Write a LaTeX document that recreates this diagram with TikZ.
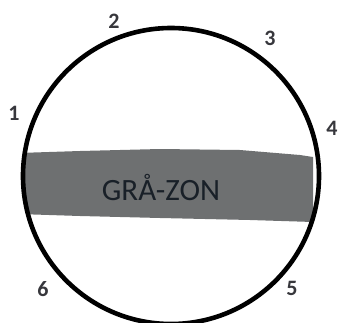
\documentclass[tikz,border=0pt]{standalone}
\usepackage{fontspec}
\setmainfont{Carlito}
\usepackage{xcolor}
\usepackage{tikz}
\usetikzlibrary{positioning}
\definecolor{zonegray}{RGB}{110,112,113}
\definecolor{zonetext}{RGB}{25,32,40}
\definecolor{numgray}{RGB}{55,55,60}

\begin{document}
\begin{tikzpicture}[
  x=1pt, y=-1pt,
  every node/.style={inner sep=0pt},
  ring/.style={draw=black, line width=4.6pt, circle, minimum size=296pt},
  num/.style={font=\fontsize{22}{22}\selectfont\bfseries, text=numgray},
  zone/.style={fill=zonegray}
]
\useasboundingbox (0,0) rectangle (338,322);
% grey band, clipped to the circle
\begin{scope}
  \clip (171,176) circle (147);
  \fill[zone] (18,153) -- (80,151) -- (160,149) -- (240,150) -- (300,155) -- (313,157)
    -- (313,222) -- (250,220) -- (160,218) -- (80,216) -- (18,214) -- cycle;
\end{scope}
\node[ring] (disc) at (171,176) {};
\node[font=\fontsize{31}{31}\selectfont, text=zonetext] (label) at (161,187) {GRÅ-ZON};
% numbers round the circle
\node[num] (n1) at (14,113) {1};
\node[num] (n2) at (114,21) {2};
\node[num] (n3) at (270,38) {3};
\node[num] (n4) at (332,128) {4};
\node[num] (n5) at (292,288) {5};
\node[num] (n6) at (43,289) {6};
\end{tikzpicture}
\end{document}
